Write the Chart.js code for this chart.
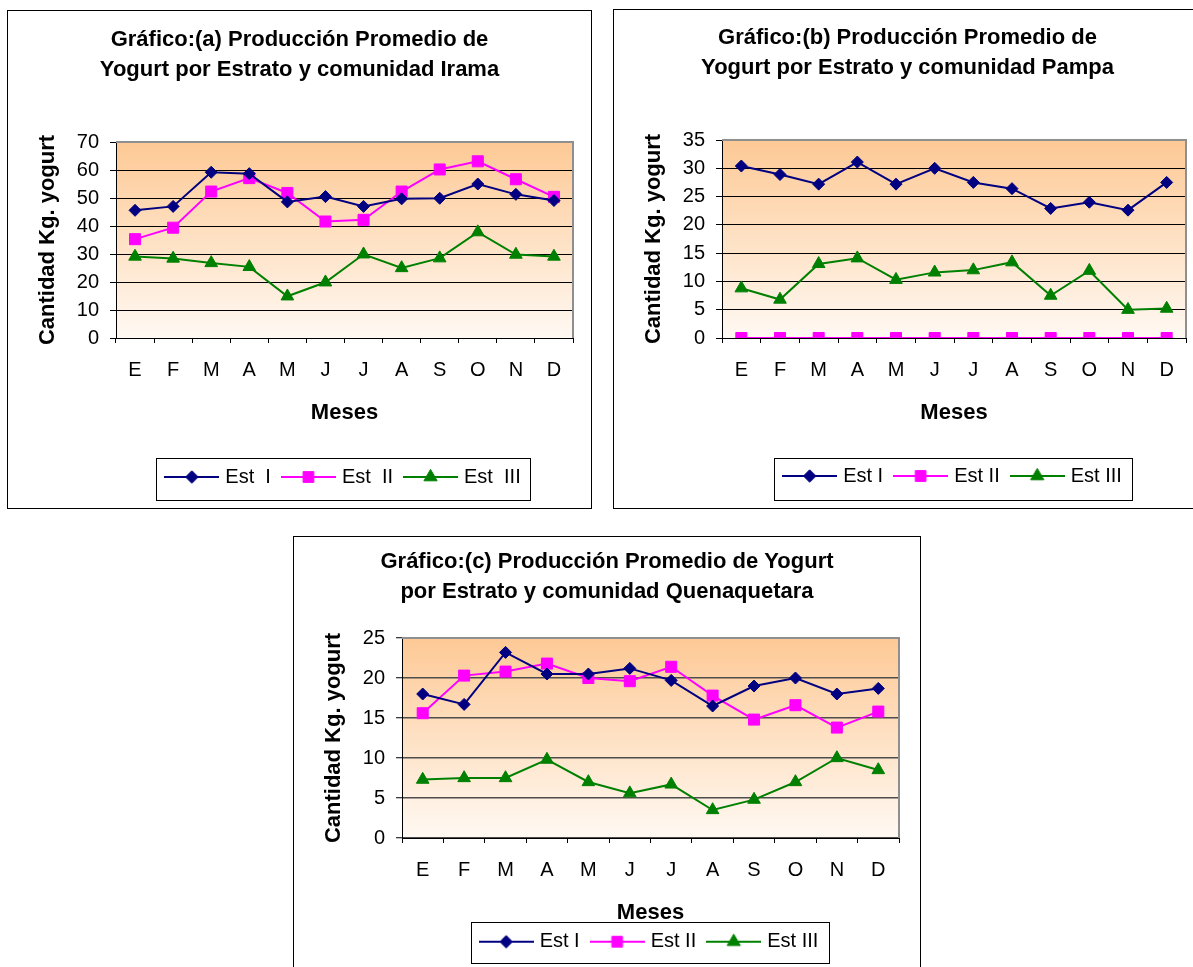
<!DOCTYPE html>
<html>
<head>
<meta charset="utf-8">
<script src="https://cdn.jsdelivr.net/npm/chart.js@4.4.0/dist/chart.umd.min.js"></script>
<style>
html,body{margin:0;padding:0;background:#fff;overflow:hidden;width:1193px;height:967px;position:relative;}
canvas{position:absolute;}
.box{position:absolute;border:1px solid #000;box-sizing:border-box;pointer-events:none;}
</style>
</head>
<body>
<canvas id="ca" width="585" height="499" style="left:7px;top:10px;width:585px;height:499px"></canvas>
<canvas id="cb" width="589" height="499" style="left:613px;top:9px;width:589px;height:499px"></canvas>
<canvas id="cc" width="628" height="440" style="left:293px;top:536px;width:628px;height:440px"></canvas>
<div class="box" style="left:7px;top:10px;width:585px;height:499px"></div>
<div class="box" style="left:613px;top:9px;width:589px;height:500px"></div>
<div class="box" style="left:293px;top:536px;width:628px;height:470px"></div>
<script>
// ---------- data ----------
const months = ['E','F','M','A','M','J','J','A','S','O','N','D'];
const seriesNames = ['Est I','Est II','Est III'];
const seriesNamesIrama = ['Est  I','Est  II','Est  III'];

const iramaEstI   = [45.6, 47.0, 59.2, 58.7, 48.6, 50.5, 47.0, 49.7, 49.9, 55.0, 51.3, 49.1];
const iramaEstII  = [35.3, 39.4, 52.3, 57.1, 51.8, 41.6, 42.2, 52.3, 60.2, 63.1, 56.7, 50.4];
const iramaEstIII = [29.1, 28.4, 26.8, 25.4, 14.9, 19.9, 29.9, 25.0, 28.5, 37.8, 29.8, 29.1];

const pampaEstI   = [30.4, 28.9, 27.2, 31.1, 27.2, 30.0, 27.5, 26.4, 22.9, 24.0, 22.6, 27.5];
const pampaEstII  = [0, 0, 0, 0, 0, 0, 0, 0, 0, 0, 0, 0];
const pampaEstIII = [8.8, 6.8, 13.1, 14.1, 10.3, 11.6, 12.0, 13.4, 7.5, 11.9, 5.0, 5.2];

const quenaEstI   = [18.0, 16.7, 23.2, 20.5, 20.5, 21.2, 19.7, 16.5, 19.0, 20.0, 18.0, 18.7];
const quenaEstII  = [15.6, 20.3, 20.8, 21.8, 20.0, 19.6, 21.4, 17.8, 14.8, 16.6, 13.8, 15.8];
const quenaEstIII = [7.3, 7.5, 7.5, 9.8, 7.0, 5.6, 6.7, 3.5, 4.8, 7.0, 10.0, 8.5];

const yMaxes = [70, 35, 25];
const yTickSteps = [10, 5, 5];

const titles = [
  ['Gráfico:(a) Producción Promedio de', 'Yogurt por Estrato y comunidad Irama'],
  ['Gráfico:(b) Producción Promedio de', 'Yogurt por Estrato y comunidad Pampa'],
  ['Gráfico:(c) Producción Promedio de Yogurt', 'por Estrato y comunidad Quenaquetara']
];
const xTitle = 'Meses';
const yTitle = 'Cantidad Kg. yogurt';

// ---------- styles ----------
const FONT = '"Liberation Sans", Arial, Helvetica, sans-serif';
const NAVY = '#000080', MAGENTA = '#FF00FF', GREEN = '#008000';
const seriesColors = [NAVY, MAGENTA, GREEN];
const seriesStyles = ['rectRot', 'rect', 'triangle'];
const seriesRadius = [6, 7.8, 7.3];
const legendRadius = [6.2, 7.6, 7.6];

Chart.defaults.font.family = FONT;
Chart.defaults.color = '#000';

function drawMarker(g, style, r, x, y) {
  if (Chart.helpers && Chart.helpers.drawPoint) {
    Chart.helpers.drawPoint(g, {pointStyle: style, radius: r, rotation: 0, borderWidth: 1}, x, y);
    return;
  }
  g.beginPath();
  if (style === 'rectRot') {
    g.moveTo(x - r, y); g.lineTo(x, y - r); g.lineTo(x + r, y); g.lineTo(x, y + r);
  } else if (style === 'rect') {
    const s = r * Math.SQRT1_2; g.rect(x - s, y - s, 2 * s, 2 * s);
  } else {
    g.moveTo(x, y - r);
    g.lineTo(x + r * Math.sin(2 * Math.PI / 3), y - r * Math.cos(2 * Math.PI / 3));
    g.lineTo(x + r * Math.sin(4 * Math.PI / 3), y - r * Math.cos(4 * Math.PI / 3));
  }
  g.closePath(); g.fill(); g.stroke();
}

function makeIcon(i) {
  const c = document.createElement('canvas');
  c.width = 55; c.height = 18;
  const g = c.getContext('2d');
  g.strokeStyle = seriesColors[i]; g.lineWidth = 2;
  g.beginPath(); g.moveTo(0, 9); g.lineTo(55, 9); g.stroke();
  g.fillStyle = seriesColors[i]; g.strokeStyle = seriesColors[i]; g.lineWidth = 1;
  drawMarker(g, seriesStyles[i], legendRadius[i], 27.5, 9);
  return c;
}
const legendIcons = [0, 1, 2].map(makeIcon);

const framePlugin = {
  id: 'frame',
  beforeDraw(chart) {
    const {ctx, chartArea: a} = chart;
    const grad = ctx.createLinearGradient(0, a.top, 0, a.bottom);
    grad.addColorStop(0, '#FDC995');
    grad.addColorStop(1, '#FFF9F3');
    ctx.save();
    ctx.fillStyle = grad;
    ctx.fillRect(a.left, a.top, a.right - a.left, a.bottom - a.top);
    ctx.restore();
  },
  beforeDatasetsDraw(chart) {
    const {ctx, chartArea: a} = chart;
    ctx.save();
    ctx.strokeStyle = '#8f8f8f';
    ctx.lineWidth = 2;
    ctx.beginPath();
    ctx.moveTo(a.left, a.top); ctx.lineTo(a.right, a.top); ctx.lineTo(a.right, a.bottom);
    ctx.stroke();
    ctx.restore();
  },
  afterDraw(chart, args, opts) {
    const hb = chart.legend && chart.legend.legendHitBoxes;
    if (!hb || !hb.length) return;
    const ctx = chart.ctx;
    const left = hb[0].left - 12;
    const last = hb[hb.length - 1];
    const right = last.left + last.width + 10;
    const top = hb[0].top + opts.top;
    const bottom = hb[0].top + opts.bottom;
    ctx.save();
    ctx.strokeStyle = '#000';
    ctx.lineWidth = 1;
    ctx.strokeRect(Math.round(left) + 0.5, Math.round(top) + 0.5, Math.round(right - left), Math.round(bottom - top));
    ctx.restore();
  }
};

function buildChart(spec) {
  const datasets = spec.series.map((vals, i) => ({
    label: spec.names[i],
    data: vals,
    yAxisID: 'y',
    borderColor: seriesColors[i],
    backgroundColor: seriesColors[i],
    borderWidth: 2,
    pointStyle: seriesStyles[i],
    pointRadius: seriesRadius[i],
    pointBorderWidth: 1,
    pointBackgroundColor: seriesColors[i],
    pointBorderColor: seriesColors[i],
    tension: 0,
    fill: false
  }));
  return new Chart(document.getElementById(spec.id), {
    type: 'line',
    data: {labels: months, datasets},
    options: {
      responsive: false,
      animation: false,
      devicePixelRatio: 1,
      events: [],
      layout: {padding: {left: 0, top: 0, right: 0, bottom: spec.padBottom}},
      plugins: {
        tooltip: {enabled: false},
        title: {
          display: true,
          text: spec.title,
          color: '#000',
          font: {family: FONT, size: 22, weight: 'bold', lineHeight: '30px'},
          padding: {top: spec.titleTop, bottom: spec.titleBottom}
        },
        legend: {
          position: 'bottom',
          fullSize: false,
          labels: {
            usePointStyle: true,
            pointStyleWidth: 47,
            padding: 14,
            color: '#000',
            font: {family: FONT, size: 20},
            generateLabels: (chart) => chart.data.datasets.map((ds, i) => ({
              text: ds.label,
              pointStyle: legendIcons[i],
              fillStyle: seriesColors[i],
              strokeStyle: seriesColors[i],
              lineWidth: 0,
              hidden: false,
              datasetIndex: i,
              fontColor: '#000'
            }))
          }
        },
        frame: spec.legendBorder
      },
      scales: {
        x: {
          type: 'category',
          offset: true,
          grid: {offset: true, drawOnChartArea: false, drawTicks: true, tickLength: 5, color: '#000', lineWidth: 1},
          border: {display: true, color: '#000', width: 1},
          ticks: {color: '#000', font: {family: FONT, size: 20}, padding: 15, maxRotation: 0, autoSkip: false},
          title: {display: true, text: xTitle, color: '#000',
                  font: {family: FONT, size: 22, weight: 'bold'},
                  padding: {top: 0, bottom: spec.xTitleBottom}},
          afterFit: (s) => { s.height = spec.xHeight; }
        },
        y: {
          type: 'linear',
          position: 'left',
          min: 0,
          max: spec.ymax,
          ticks: {stepSize: spec.step, autoSkip: false, color: '#000', font: {family: FONT, size: 20}, padding: 11},
          grid: {color: spec.gridColor, lineWidth: spec.gridWidth, drawTicks: true, tickLength: 6, tickColor: '#000', tickWidth: 1},
          border: {display: true, color: '#000', width: 1},
          title: {display: true, text: yTitle, color: '#000',
                  font: {family: FONT, size: 22, weight: 'bold'},
                  padding: {top: 28, bottom: 0}},
          afterFit: (s) => { s.width = 109; }
        },
        yR: {
          type: 'linear',
          position: 'right',
          display: true,
          grid: {display: false, drawTicks: false},
          border: {display: false},
          ticks: {display: false},
          afterFit: (s) => { s.width = spec.rightGap; }
        }
      }
    },
    plugins: [framePlugin]
  });
}

buildChart({
  id: 'ca', title: titles[0], names: seriesNamesIrama,
  series: [iramaEstI, iramaEstII, iramaEstIII],
  ymax: yMaxes[0], step: yTickSteps[0],
  titleTop: 14.5, titleBottom: 57.5, xHeight: 115, xTitleBottom: 26.8,
  padBottom: 12, rightGap: 19, gridColor: '#000', gridWidth: 1,
  legendBorder: {top: -9, bottom: 33}
});
buildChart({
  id: 'cb', title: titles[1], names: seriesNames,
  series: [pampaEstI, pampaEstII, pampaEstIII],
  ymax: yMaxes[1], step: yTickSteps[1],
  titleTop: 14, titleBottom: 57, xHeight: 114, xTitleBottom: 25.8,
  padBottom: 12, rightGap: 16, gridColor: '#000', gridWidth: 1,
  legendBorder: {top: -8, bottom: 34}
});
buildChart({
  id: 'cc', title: titles[2], names: seriesNames,
  series: [quenaEstI, quenaEstII, quenaEstIII],
  ymax: yMaxes[2], step: yTickSteps[2],
  titleTop: 11, titleBottom: 31, xHeight: 79.7, xTitleBottom: -8,
  padBottom: 14.3, rightGap: 22, gridColor: '#4d4d4d', gridWidth: 1.5,
  legendBorder: {top: -10, bottom: 31.3}
});
</script>
</body>
</html>
